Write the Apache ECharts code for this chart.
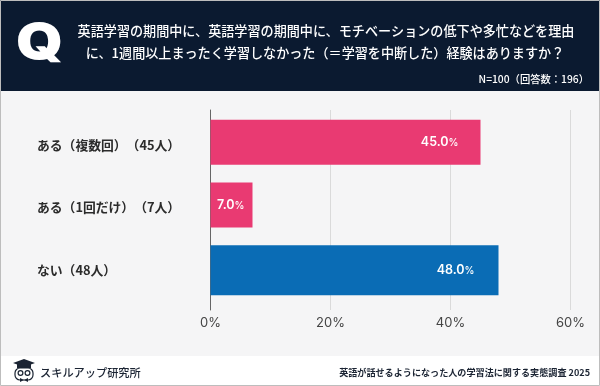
<!DOCTYPE html>
<html>
<head>
<meta charset="utf-8">
<style>
html, body { margin: 0; padding: 0; background: #f5f5f6; }
#chart { width: 600px; height: 386px; }
</style>
<script src="https://cdn.jsdelivr.net/npm/echarts@6/dist/echarts.min.js"></script>
</head>
<body>
<div id="chart"></div>
<script>
const categories = ['ある（複数回）（45人）', 'ある（1回だけ）（7人）', 'ない（48人）']
const pinkValues = [45, 7, null]
const blueValues = [null, null, 48]
const xTicks = [0, 20, 40, 60]
const questionLines = [
	'英語学習の期間中に、英語学習の期間中に、モチベーションの低下や多忙などを理由',
	'に、1週間以上まったく学習しなかった（＝学習を中断した）経験はありますか？'
]
const sampleNote = 'N=100（回答数：196）'
const brandName = 'スキルアップ研究所'
const surveyName = '英語が話せるようになった人の学習法に関する実態調査 2025'

const fontFamily = '"Noto Sans CJK JP", Inter, sans-serif'
const NAVY = '#0b1a30'
const INK = '#1b2433'

const chart = echarts.init(document.getElementById('chart'))

const barLabel = {
	show: true,
	position: 'insideRight',
	distance: 22,
	formatter: (p) => '{v|' + p.value.toFixed(1) + '}{u|%}',
	rich: {
		v: { color: '#fff', fontSize: 12.5, fontWeight: 600, fontFamily: 'Inter' },
		u: { color: '#fff', fontSize: 10, fontWeight: 500, fontFamily: 'Inter', padding: [2, 0, 0, 0] }
	}
}

// short bars keep their label closer to the bar end
const withLabelGap = (values) => values.map((v) => (
	v === null ? null : { value: v, label: { distance: v < 10 ? 8 : (v > 47 ? 24 : 22) } }
))

// drawn in two pieces so the brackets in the middle keep their full width
const categoryLabel = (text) => text.split(/(?<=）)(?=（)/).map((s) => '{t|' + s + '}').join('')

chart.setOption({
	animation: false,
	backgroundColor: '#f5f5f6',
	textStyle: { fontFamily },
	grid: [
		// bars
		{ left: 210.5, right: 29.5, top: 113.5, height: 188 },
		// gridlines run slightly longer than the bar area
		{ left: 210.5, right: 29.5, top: 110, height: 200 }
	],
	xAxis: [
		{
			gridIndex: 0, type: 'value', min: 0, max: 60, interval: 20,
			axisLine: { show: false }, axisTick: { show: false },
			axisLabel: { show: false }, splitLine: { show: false }
		},
		{
			gridIndex: 1, type: 'value', min: xTicks[0], max: xTicks[xTicks.length - 1], interval: 20,
			axisLine: { show: false }, axisTick: { show: false },
			axisLabel: { color: '#444', fontSize: 13, fontFamily: 'Inter', margin: 7, formatter: '{value}%' },
			splitLine: { show: true, lineStyle: { color: '#dadada', width: 1 } }
		}
	],
	yAxis: [
		{
			gridIndex: 0, type: 'category', inverse: true, data: categories,
			axisLine: { show: false }, axisTick: { show: false },
			axisLabel: {
				align: 'left',
				margin: 173.5,
				formatter: categoryLabel,
				rich: { t: { color: '#2b2b2b', fontSize: 12.8, fontWeight: 700, fontFamily } }
			}
		},
		{
			gridIndex: 1, type: 'value', min: 0, max: 1,
			axisLine: { show: true, lineStyle: { color: '#666', width: 1 } },
			axisTick: { show: false }, axisLabel: { show: false }, splitLine: { show: false }
		}
	],
	series: [
		{
			type: 'bar', xAxisIndex: 0, yAxisIndex: 0, data: withLabelGap(pinkValues), barWidth: 45, barGap: '-100%',
			itemStyle: { color: '#e93a72' }, label: barLabel
		},
		{
			type: 'bar', xAxisIndex: 0, yAxisIndex: 0, data: withLabelGap(blueValues), barWidth: 50, barGap: '-100%',
			itemStyle: { color: '#0a6cb5' }, label: barLabel
		}
	],
	graphic: [
		{ type: 'rect', silent: true, z: 10, shape: { x: 0, y: 0, width: 600, height: 91 }, style: { fill: NAVY } },
		{ type: 'rect', silent: true, z: 10, shape: { x: 0, y: 356, width: 600, height: 30 }, style: { fill: '#fff' } },
		{ type: 'text', z: 11, x: 39.5, y: 44, scaleX: 1.22, style: { text: 'Q', fill: '#fff', font: '900 49px Inter', align: 'center', verticalAlign: 'middle' } },
		{ type: 'text', z: 11, x: 326, y: 31.5, style: { text: questionLines[0], fill: '#fff', font: '500 13.1px ' + fontFamily, align: 'center', verticalAlign: 'middle' } },
		{ type: 'text', z: 11, x: 325, y: 53.5, style: { text: questionLines[1], fill: '#fff', font: '500 13.1px ' + fontFamily, align: 'center', verticalAlign: 'middle' } },
		{ type: 'text', z: 11, x: 589, y: 79, style: { text: sampleNote, fill: '#fff', font: '500 10.3px ' + fontFamily, align: 'right', verticalAlign: 'middle' } },
		{ type: 'text', z: 11, x: 40, y: 372.5, style: { text: brandName, fill: INK, font: '500 11.2px ' + fontFamily, align: 'left', verticalAlign: 'middle' } },
		{ type: 'text', z: 11, x: 590, y: 372.5, style: { text: surveyName, fill: INK, font: '700 9.1px ' + fontFamily, align: 'right', verticalAlign: 'middle' } },
		// logo: cap, owl head, eyes, bow tie
		{ type: 'polygon', z: 11, shape: { points: [[13, 363], [24, 359], [35, 363], [24, 367]] }, style: { fill: INK } },
		{ type: 'rect', z: 11, shape: { x: 17, y: 364, width: 14, height: 4 }, style: { fill: INK } },
		{ type: 'rect', z: 11, shape: { x: 15, y: 368, width: 18, height: 12, r: 5 }, style: { fill: '#fff', stroke: INK, lineWidth: 1.2 } },
		{ type: 'circle', z: 11, shape: { cx: 20.5, cy: 373, r: 2.4 }, style: { fill: '#fff', stroke: INK, lineWidth: 1.2 } },
		{ type: 'circle', z: 11, shape: { cx: 27.5, cy: 373, r: 2.4 }, style: { fill: '#fff', stroke: INK, lineWidth: 1.2 } },
		{ type: 'polygon', z: 11, shape: { points: [[20, 378], [24, 380], [28, 378], [28, 382], [24, 380], [20, 382]] }, style: { fill: INK } },
		// picture edge
		{ type: 'rect', silent: true, z: 12, shape: { x: 0.5, y: 0.5, width: 599, height: 385 }, style: { fill: 'none', stroke: '#bdbdbd', lineWidth: 1 } }
	]
})
</script>
</body>
</html>
